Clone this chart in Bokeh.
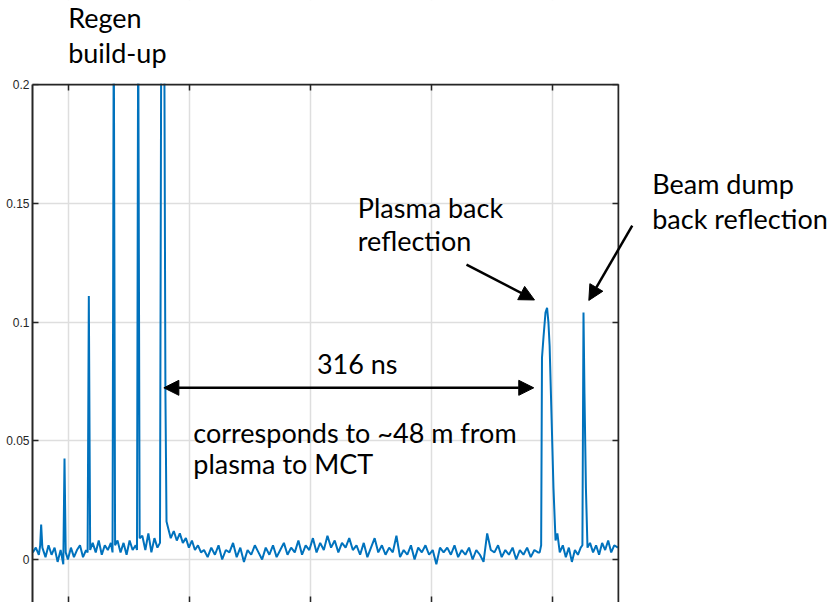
from bokeh.plotting import figure
from bokeh.models import (Range1d, FixedTicker, LinearAxis, Label, Arrow,
                          NormalHead, CustomJSTickFormatter, BoxAnnotation)
from bokeh.embed import file_html
from bokeh.resources import INLINE

# ---------------- data (time in ns, signal in V) ----------------
x_ticks = [0, 100, 200, 300, 400]
y_ticks = [0, 0.05, 0.1, 0.15, 0.2]
x_box = (-29.75, 454.5)      # time span of the scope window
y_box = (-0.0181, 0.2)       # signal span of the scope window

# regenerative amplifier build-up region (three pulses run off the top)
regen_t = [-29.5, -27.0, -24.5, -23.4, -22.6, -21.6, -19.0, -16.5, -14.0, -11.5,
           -9.0, -6.5, -4.3, -3.3, -2.3, -0.5, 2.0, 4.5, 7.0, 9.5,
           12.0, 14.5, 15.8, 16.8, 17.9, 20.0, 22.5, 25.0, 27.5, 30.0,
           32.5, 35.0, 36.4, 37.4, 38.5, 40.5, 43.0, 45.5, 48.0, 50.5,
           53.0, 55.5, 56.6, 57.6, 58.8, 61.0, 63.5, 66.0, 68.5, 71.0,
           73.5, 75.6, 76.6, 77.4, 78.3, 79.2, 80.1, 81.0, 82.5, 84.5,
           87.0, 89.5, 92.0, 94.5, 97.0, 99.5, 102.0, 104.5, 107.0, 109.5]
regen_v = [0.003, 0.005, 0.002, 0.006, 0.0147, 0.005, 0.001, 0.006, 0.002, 0.005,
           -0.001, 0.004, -0.002, 0.0425, 0.003, 0.000, 0.005, 0.001, 0.004, 0.006,
           0.001, 0.004, 0.003, 0.111, 0.004, 0.007, 0.003, 0.008, 0.002, 0.006,
           0.004, 0.007, 0.003, 0.232, 0.006, 0.008, 0.003, 0.007, 0.002, 0.008,
           0.004, 0.006, 0.004, 0.233, 0.009, 0.010, 0.004, 0.011, 0.003, 0.009,
           0.005, 0.007, 0.215, 0.234, 0.234, 0.215, 0.07, 0.016, 0.013, 0.009,
           0.012, 0.008, 0.011, 0.007, 0.009, 0.005, 0.008, 0.004, 0.006, 0.003]

# flat noisy baseline between regen output and back reflections
base_t = [112, 115, 118, 121, 124, 127, 130, 133, 136, 139,
          142, 145, 148, 151, 154, 157, 160, 163, 166, 169,
          172, 175, 178, 181, 184, 187, 190, 193, 196, 199,
          202, 205, 208, 211, 214, 217, 220, 223, 226, 229,
          232, 235, 238, 241, 244, 247, 250, 253, 256, 259,
          262, 265, 268, 271, 274, 277, 280, 283, 286, 289,
          292, 295, 298, 301, 304, 307, 310, 313, 316, 319,
          322, 325, 328, 331, 334, 337, 340, 343, 346, 349,
          352, 355, 358, 361, 364, 367, 370, 373, 376, 379,
          382, 385, 388]
base_v = [0.004, 0.001, 0.005, 0.002, 0.006, 0.000, 0.004, 0.003, 0.007, 0.001,
          0.005, -0.001, 0.004, 0.002, 0.006, 0.003, 0.000, 0.005, 0.002, 0.006,
          0.001, 0.004, 0.007, 0.002, 0.005, 0.003, 0.008, 0.002, 0.006, 0.004,
          0.009, 0.003, 0.007, 0.004, 0.010, 0.005, 0.008, 0.003, 0.007, 0.005,
          0.009, 0.004, 0.006, 0.002, 0.007, 0.001, 0.005, 0.009, 0.003, 0.006,
          0.002, 0.005, 0.003, 0.010, 0.001, 0.004, 0.002, 0.006, 0.000, 0.005,
          0.003, 0.006, 0.002, 0.004, -0.002, 0.005, 0.003, 0.005, 0.002, 0.006,
          0.001, 0.004, 0.002, 0.005, 0.000, 0.004, 0.002, -0.001, 0.011, 0.004,
          0.003, 0.006, 0.001, 0.004, 0.002, 0.005, 0.000, 0.004, 0.002, 0.005,
          0.001, 0.004, 0.003]

# plasma and beam-dump back reflections
refl_t = [389.4, 390.6, 391.3, 392.6, 394.2, 395.5, 396.6, 397.6, 399.2, 400.8,
          402.5, 404.0, 406.0, 408.5, 411.0, 413.5, 416.0, 418.5, 421.0, 423.3,
          424.7, 425.6, 426.4, 427.6, 428.9, 431.0, 433.5, 436.0, 438.5, 441.0,
          443.5, 446.0, 448.5, 451.0, 454.0]
refl_v = [0.003, 0.006, 0.085, 0.094, 0.104, 0.106, 0.100, 0.090, 0.060, 0.030,
          0.008, 0.011, 0.003, 0.006, 0.001, 0.005, -0.001, 0.004, 0.002, 0.005,
          0.006, 0.104, 0.070, 0.030, 0.005, 0.007, 0.003, 0.006, 0.002, 0.007,
          0.004, 0.008, 0.003, 0.006, 0.005]

t_ns = regen_t + base_t + refl_t
sig = regen_v + base_v + refl_v

# ---------------- figure ----------------
# The frame spans the whole page right of the y tick labels so the
# annotations (which sit outside the scope box) can be drawn.
p = figure(width=829, height=602,
           x_range=Range1d(-29.75, 628.9), y_range=Range1d(-0.0181, 0.2354),
           output_backend="svg", toolbar_location=None, tools="",
           min_border_left=32, min_border_right=0,
           min_border_top=0, min_border_bottom=0)
p.outline_line_color = None
p.background_fill_color = "white"
p.border_fill_color = "white"

blank = CustomJSTickFormatter(code="return ''")
AX = "#262626"


def style(ax, ticks, bounds, labels=False):
    ax.ticker = FixedTicker(ticks=ticks)
    ax.bounds = bounds
    if not labels:
        ax.formatter = blank
        ax.major_label_text_font_size = "0px"
        ax.major_label_standoff = 0
    ax.major_tick_in = 6
    ax.major_tick_out = 0
    ax.minor_tick_in = 0
    ax.minor_tick_out = 0
    ax.axis_line_color = AX
    ax.axis_line_width = 2
    ax.major_tick_line_color = AX
    ax.major_tick_line_width = 1.5


# bottom (cut off in the picture: ticks only)
style(p.xaxis[0], x_ticks, x_box)
p.xaxis[0].axis_line_color = None
# left with tick labels
style(p.yaxis[0], y_ticks, y_box, labels=True)
p.yaxis[0].major_label_text_font = "Liberation Sans"
p.yaxis[0].major_label_text_font_size = "12px"
p.yaxis[0].major_label_text_color = AX
p.yaxis[0].major_label_standoff = 3
# top and right edges of the scope box
top = LinearAxis(fixed_location=y_box[1])
style(top, x_ticks, x_box)
p.add_layout(top, "above")
right = LinearAxis(fixed_location=x_box[1])
style(right, y_ticks, y_box)
p.add_layout(right, "right")

p.xgrid.ticker = FixedTicker(ticks=x_ticks)
p.ygrid.ticker = FixedTicker(ticks=y_ticks)
for g in (p.xgrid, p.ygrid):
    g.grid_line_color = "#dedede"
    g.grid_line_width = 1.5

p.line(t_ns, sig, line_color="#0072BD", line_width=2)

# white page outside the scope box (hides grid / trace beyond the box)
p.add_layout(BoxAnnotation(bottom=y_box[1] + 0.00045, top=2.0,
                           left=-100, right=1000, fill_color="white",
                           fill_alpha=1, line_alpha=0))
p.add_layout(BoxAnnotation(left=x_box[1] + 0.85, right=1000,
                           bottom=-1.0, top=2.0, fill_color="white",
                           fill_alpha=1, line_alpha=0))

# annotations
FONT = "Lato"
FS = "27px"
notes = [
    (-0.25, 0.2282, "Regen", "left"),
    (-0.25, 0.2135, "build-up", "left"),
    (239.1, 0.1483, "Plasma back", "left"),
    (239.1, 0.1343, "reflection", "left"),
    (482.4, 0.1582, "Beam dump", "left"),
    (482.4, 0.1434, "back reflection", "left"),
    (238.6, 0.0824, "316 ns", "center"),
    (103.1, 0.0536, "corresponds to ~48 m from", "left"),
    (103.1, 0.0404, "plasma to MCT", "left"),
]
for x, y, s, al in notes:
    p.add_layout(Label(x=x, y=y, text=s, text_align=al,
                       text_baseline="alphabetic", text_font=FONT,
                       text_font_size=FS, text_color="black"))


def head():
    return NormalHead(size=15, fill_color="black", line_color="black")


p.add_layout(Arrow(start=head(), end=head(), x_start=78.8, y_start=0.0723,
                   x_end=384.5, y_end=0.0723, line_width=2.5, line_color="black"))
p.add_layout(Arrow(end=head(), x_start=328.9, y_start=0.1242,
                   x_end=385.1, y_end=0.1093, line_width=2.5, line_color="black"))
p.add_layout(Arrow(end=head(), x_start=465.9, y_start=0.1406,
                   x_end=430.0, y_end=0.1091, line_width=2.5, line_color="black"))

open("out.html", "w").write(file_html(p, INLINE))
